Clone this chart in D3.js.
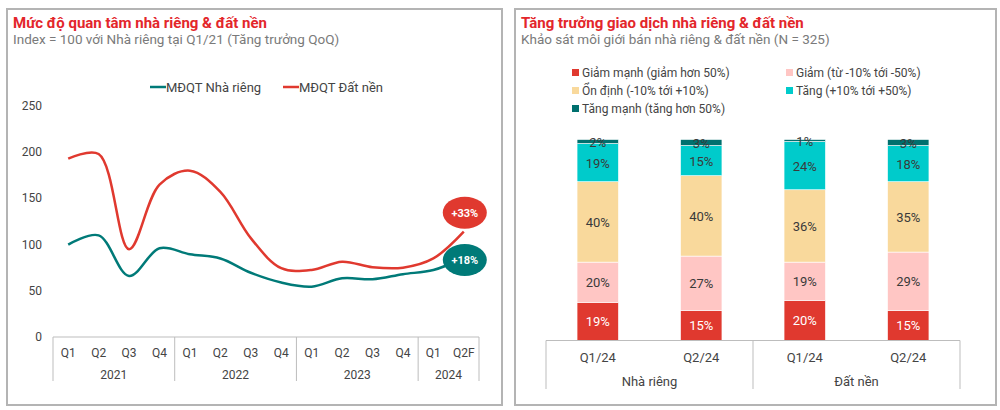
<!DOCTYPE html>
<html>
<head>
<meta charset="utf-8">
<script src="https://cdn.jsdelivr.net/npm/d3@7"></script>
<style>
  body { margin: 0; background: #fff; font-family: Roboto, sans-serif; }
  svg text { font-family: Roboto, sans-serif; }
</style>
</head>
<body>
<div id="wrapper"></div>
<script>
// left chart data
const quarters = ["Q1", "Q2", "Q3", "Q4", "Q1", "Q2", "Q3", "Q4", "Q1", "Q2", "Q3", "Q4", "Q1", "Q2F"];
const years = ["2021", "2022", "2023", "2024"];
const yearSizes = [4, 4, 4, 2];
const nhaRieng = [100, 110, 66, 96, 89.5, 85, 69.5, 59, 54.5, 63.5, 62.5, 68, 72.5, 85.5];
const datNen = [193, 198, 95, 165, 180, 157, 107, 74.5, 72.5, 81.5, 75.5, 75, 85, 114];
const yTicks = [0, 50, 100, 150, 200, 250];
const lineNames = ["MĐQT Nhà riêng", "MĐQT Đất nền"];
const growthLabels = ["+18%", "+33%"];

// right chart data
const barCats = ["Q1/24", "Q2/24", "Q1/24", "Q2/24"];
const barGroups = ["Nhà riêng", "Đất nền"];
const stackKeys = ["Giảm mạnh (giảm hơn 50%)", "Giảm (từ -10% tới -50%)", "Ổn định (-10% tới +10%)", "Tăng (+10% tới +50%)", "Tăng mạnh (tăng hơn 50%)"];
const giamManh = [19, 15, 20, 15];
const giam = [20, 27, 19, 29];
const onDinh = [40, 40, 36, 35];
const tang = [19, 15, 24, 18];
const tangManh = [2, 3, 1, 3];

const RED = "#e0392f", TEAL = "#007a78";
const stackColors = ["#e0392f", "#ffc6c4", "#f9d99c", "#00cbcb", "#00706e"];

const svg = d3.select("#wrapper").append("svg")
  .attr("width", 1000)
  .attr("height", 410);

// panel frames
function panel(x, y, w, h, title, subtitle) {
  svg.append("rect")
    .attr("x", x).attr("y", y).attr("width", w).attr("height", h)
    .attr("fill", "#fff").attr("stroke", "#b4b4b4").attr("stroke-width", 2);
  svg.append("text")
    .attr("x", x + 6).attr("y", y + 19)
    .attr("fill", "#e3262b").style("font-size", "15px").style("font-weight", "bold")
    .text(title);
  svg.append("text")
    .attr("x", x + 6).attr("y", y + 35)
    .attr("fill", "#7a7a7a").style("font-size", "13.5px")
    .text(subtitle);
}
panel(7, 9, 495, 396, "Mức độ quan tâm nhà riêng & đất nền", "Index = 100 với Nhà riêng tại Q1/21 (Tăng trưởng QoQ)");
panel(515, 9, 481, 396, "Tăng trưởng giao dịch nhà riêng & đất nền", "Khảo sát môi giới bán nhà riêng & đất nền (N = 325)");

// ---------- left line chart ----------
const left = { x0: 53, x1: 479, yTop: 106, yBottom: 337 };
const xIdx = d3.range(quarters.length);
const xBand = d3.scaleBand().domain(xIdx).range([left.x0, left.x1]);
const yScale = d3.scaleLinear().domain([0, 250]).range([left.yBottom, left.yTop]);
const xc = i => xBand(i) + xBand.bandwidth() / 2;

svg.append("g").selectAll("text")
  .data(yTicks).enter().append("text")
  .attr("x", 42).attr("y", d => yScale(d) + 4)
  .attr("text-anchor", "end").attr("fill", "#444").style("font-size", "12px")
  .text(d => d);

// category axis
const axisL = svg.append("g").attr("stroke", "#bdbdbd").attr("stroke-width", 1);
axisL.append("line").attr("x1", left.x0).attr("x2", left.x1).attr("y1", left.yBottom).attr("y2", left.yBottom);
let start = 0;
const yearBounds = [];
yearSizes.forEach((n, i) => { yearBounds.push({ s: start, e: start + n, name: years[i] }); start += n; });
const sepIdx = [0].concat(yearBounds.map(b => b.e));
axisL.selectAll("line.sep").data(sepIdx).enter().append("line")
  .attr("x1", d => d < quarters.length ? xBand(d) : left.x1)
  .attr("x2", d => d < quarters.length ? xBand(d) : left.x1)
  .attr("y1", left.yBottom).attr("y2", 381);

svg.append("g").selectAll("text").data(quarters).enter().append("text")
  .attr("x", (d, i) => xc(i)).attr("y", 357)
  .attr("text-anchor", "middle").attr("fill", "#444").style("font-size", "12px")
  .text(d => d);
svg.append("g").selectAll("text").data(yearBounds).enter().append("text")
  .attr("x", d => (xBand(d.s) + (d.e < quarters.length ? xBand(d.e) : left.x1)) / 2).attr("y", 379)
  .attr("text-anchor", "middle").attr("fill", "#444").style("font-size", "12px")
  .text(d => d.name);

const lineGen = d3.line()
  .x((d, i) => xc(i))
  .y(d => yScale(d))
  .curve(d3.curveCatmullRom.alpha(0.5));

[[nhaRieng, TEAL], [datNen, RED]].forEach(([vals, col]) => {
  svg.append("path").datum(vals)
    .attr("d", lineGen).attr("fill", "none")
    .attr("stroke", col).attr("stroke-width", 2.5);
});

// growth bubbles
const last = quarters.length - 1;
const bubbles = [
  { v: nhaRieng[last], dy: 2, col: TEAL, label: growthLabels[0] },
  { v: datNen[last], dy: -19, col: RED, label: growthLabels[1] }
];
const bub = svg.append("g").selectAll("g").data(bubbles).enter().append("g")
  .attr("transform", d => `translate(${xc(last) + 1},${yScale(d.v) + d.dy})`);
bub.append("ellipse").attr("rx", 22).attr("ry", 16).attr("fill", d => d.col);
bub.append("text").attr("y", 4).attr("text-anchor", "middle")
  .attr("fill", "#fff").style("font-size", "11px").style("font-weight", "bold")
  .text(d => d.label);

// legend
const legL = svg.append("g").selectAll("g").data(lineNames).enter().append("g")
  .attr("transform", (d, i) => `translate(${150 + i * 133},87)`);
legL.append("line").attr("x1", 0).attr("x2", 16).attr("stroke-width", 2.5)
  .attr("stroke", (d, i) => i === 0 ? TEAL : RED);
legL.append("text").attr("x", 16).attr("y", 5)
  .attr("fill", "#444").style("font-size", "13px").text(d => d);

// ---------- right stacked bars ----------
const right = { x0: 546, x1: 960, yTop: 139.5, yBottom: 340.5 };
const series = [giamManh, giam, onDinh, tang, tangManh];
const barIdx = d3.range(barCats.length);
const barRows = barIdx.map(i => {
  const r = { i: i };
  stackKeys.forEach((k, j) => { r[k] = series[j][i]; });
  return r;
});
const stacked = d3.stack().keys(stackKeys)(barRows);

const xb = d3.scaleBand().domain(barIdx).range([right.x0, right.x1]).paddingInner(0.6).paddingOuter(0.3);
const yb = d3.scaleLinear().domain([0, 100]).range([right.yBottom, right.yTop]);

const layers = svg.append("g").selectAll("g").data(stacked).enter().append("g")
  .attr("fill", (d, i) => stackColors[i]);
layers.selectAll("rect").data(d => d).enter().append("rect")
  .attr("x", d => xb(d.data.i))
  .attr("y", d => yb(d[1]))
  .attr("width", xb.bandwidth())
  .attr("height", d => yb(d[0]) - yb(d[1]))
  .attr("stroke", "#fff").attr("stroke-width", 0.6);

layers.each(function(layer, li) {
  d3.select(this).selectAll("text").data(layer).enter().append("text")
    .attr("x", d => xb(d.data.i) + xb.bandwidth() / 2)
    .attr("y", d => (yb(d[0]) + yb(d[1])) / 2 + 5)
    .attr("text-anchor", "middle")
    .attr("fill", li === 0 ? "#fff" : "#3a3a3a")
    .style("font-size", "13px")
    .text(d => (d[1] - d[0]) + "%");
});

// category axis right
const axisR = svg.append("g").attr("stroke", "#bdbdbd").attr("stroke-width", 1);
axisR.append("line").attr("x1", right.x0).attr("x2", right.x1).attr("y1", right.yBottom).attr("y2", right.yBottom);
const groupX = [right.x0, (right.x0 + right.x1) / 2, right.x1];
axisR.selectAll("line.sep").data(groupX).enter().append("line")
  .attr("x1", d => d).attr("x2", d => d).attr("y1", right.yBottom).attr("y2", 389);

svg.append("g").selectAll("text").data(barCats).enter().append("text")
  .attr("x", (d, i) => xb(i) + xb.bandwidth() / 2).attr("y", 362)
  .attr("text-anchor", "middle").attr("fill", "#444").style("font-size", "13px")
  .text(d => d);
svg.append("g").selectAll("text").data(barGroups).enter().append("text")
  .attr("x", (d, i) => (groupX[i] + groupX[i + 1]) / 2).attr("y", 386)
  .attr("text-anchor", "middle").attr("fill", "#444").style("font-size", "13px")
  .text(d => d);

// legend right
const legR = svg.append("g").selectAll("g").data(stackKeys).enter().append("g")
  .attr("transform", (d, i) => `translate(${i % 2 === 0 ? 572 : 786},${73 + Math.floor(i / 2) * 18})`);
legR.append("rect").attr("x", 0).attr("y", -4).attr("width", 7).attr("height", 7)
  .attr("fill", (d, i) => stackColors[i]);
legR.append("text").attr("x", 10).attr("y", 4)
  .attr("fill", "#444").style("font-size", "12px").text(d => d);
</script>
</body>
</html>
